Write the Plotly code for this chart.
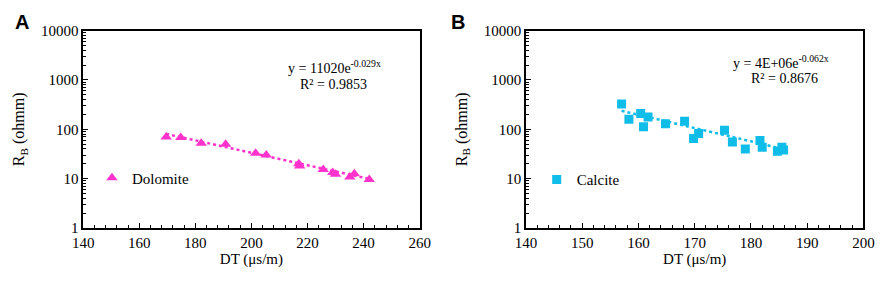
import numpy as np
import plotly.graph_objects as go

# ---- Data ----
dolomite_dt = [169.6, 174.8, 182.1, 190.8, 201.5, 205.3, 216.9, 217.2, 225.6, 229.0, 230.0, 235.1, 236.7, 242.0]
dolomite_rb = [70, 68, 52, 50, 32.5, 30, 20, 18, 15.3, 13.3, 12.2, 10.8, 12.6, 9.6]

calcite_dt = [157.0, 158.3, 160.4, 160.9, 161.7, 164.8, 168.2, 169.8, 170.7, 175.3, 176.7, 179.0,
              181.6, 182.0, 184.7, 185.5, 185.8]
calcite_rb = [326, 160, 210, 113, 178, 130, 145, 65, 82, 96, 55, 40, 59, 43, 36, 43, 38]

dolo_fit = (11020, -0.029, 0.9853)
calc_fit = (4e6, -0.062, 0.8676)

y_ticks = [1, 10, 100, 1000, 10000]
y_ticktext = ["1", "10", "100", "1000", "10000"]

PINK = "#FF33CC"
CYAN = "#0FBDE8"
SERIF = "Liberation Serif"

fig = go.Figure()

# Dolomite
fig.add_trace(go.Scatter(x=dolomite_dt, y=dolomite_rb, mode="markers", name="Dolomite",
                         marker=dict(symbol="triangle-up", size=10, color=PINK),
                         xaxis="x", yaxis="y", legend="legend"))
xd = np.linspace(min(dolomite_dt), max(dolomite_dt), 50)
fig.add_trace(go.Scatter(x=xd, y=dolo_fit[0] * np.exp(dolo_fit[1] * xd), mode="lines",
                         line=dict(color=PINK, width=2.5, dash="dot"), showlegend=False,
                         xaxis="x", yaxis="y", hoverinfo="skip"))

# Calcite
fig.add_trace(go.Scatter(x=calcite_dt, y=calcite_rb, mode="markers", name="Calcite",
                         marker=dict(symbol="square", size=9, color=CYAN),
                         xaxis="x2", yaxis="y2", legend="legend2"))
xc = np.linspace(min(calcite_dt), max(calcite_dt), 50)
fig.add_trace(go.Scatter(x=xc, y=calc_fit[0] * np.exp(calc_fit[1] * xc), mode="lines",
                         line=dict(color=CYAN, width=2.5, dash="dot"), showlegend=False,
                         xaxis="x2", yaxis="y2", hoverinfo="skip"))

W, H = 892, 285
ax_common = dict(showline=True, mirror=True, linecolor="black", linewidth=1.5,
                 ticks="inside", ticklen=5, tickcolor="black", showgrid=False, zeroline=False,
                 tickfont=dict(family=SERIF, size=15, color="black"))

xa = dict(ax_common, title=dict(text="DT (μs/m)", font=dict(family=SERIF, size=15, color="black"), standoff=4))
ya = dict(ax_common, type="log", range=[0, 4], tickvals=y_ticks, ticktext=y_ticktext,
          minor=dict(ticks="inside", ticklen=3, tickcolor="black", dtick="D1", showgrid=False),
          title=dict(text="R<sub>B</sub> (ohmm)", font=dict(family=SERIF, size=16, color="black"), standoff=12))


def ann(text, xpx, ypx, size=14, family=SERIF, xanchor="center", yanchor="middle"):
    return dict(text=text, x=xpx / W, y=1 - ypx / H, xref="paper", yref="paper",
                xanchor=xanchor, yanchor=yanchor, showarrow=False, borderpad=0,
                font=dict(family=family, size=size, color="black"))


fig.update_layout(
    width=W, height=H, margin=dict(l=0, r=0, t=0, b=0),
    plot_bgcolor="white", paper_bgcolor="white",
    xaxis=dict(xa, domain=[74 / W, 419 / W], range=[140, 260], dtick=20,
               minor=dict(ticks="inside", ticklen=3, tickcolor="black", dtick=4), anchor="y"),
    yaxis=dict(ya, domain=[1 - 233 / H, 1 - 24 / H], anchor="x"),
    xaxis2=dict(xa, domain=[528 / W, 874 / W], range=[140, 200], dtick=10,
                minor=dict(ticks="inside", ticklen=3, tickcolor="black", dtick=2), anchor="y2"),
    yaxis2=dict(ya, domain=[1 - 233 / H, 1 - 24 / H], anchor="x2"),
    legend=dict(x=83 / W, y=1 - 180 / H, yanchor="middle", xanchor="left",
                bgcolor="rgba(0,0,0,0)", font=dict(family=SERIF, size=15, color="black"),
                itemwidth=30),
    legend2=dict(x=539 / W, y=1 - 182 / H, yanchor="middle", xanchor="left",
                 bgcolor="rgba(0,0,0,0)", font=dict(family=SERIF, size=15, color="black"),
                 itemwidth=30),
    annotations=[
        ann("<b>A</b>", 3, 2, size=20, family="Liberation Sans", xanchor="left", yanchor="top"),
        ann("<b>B</b>", 450, 2, size=20, family="Liberation Sans", xanchor="left", yanchor="top"),
        ann(f"y = {dolo_fit[0]:.0f}e<sup>{dolo_fit[1]}x</sup>", 332, 63),
        ann(f"R² = {dolo_fit[2]}", 331, 81),
        ann(f"y = 4E+06e<sup>{calc_fit[1]}x</sup>", 789, 57),
        ann(f"R² = {calc_fit[2]}", 793, 75),
    ],
)

fig.write_html("out.html", config={"displayModeBar": False},
               post_script="document.body.style.margin='0';document.body.style.overflow='hidden';")
